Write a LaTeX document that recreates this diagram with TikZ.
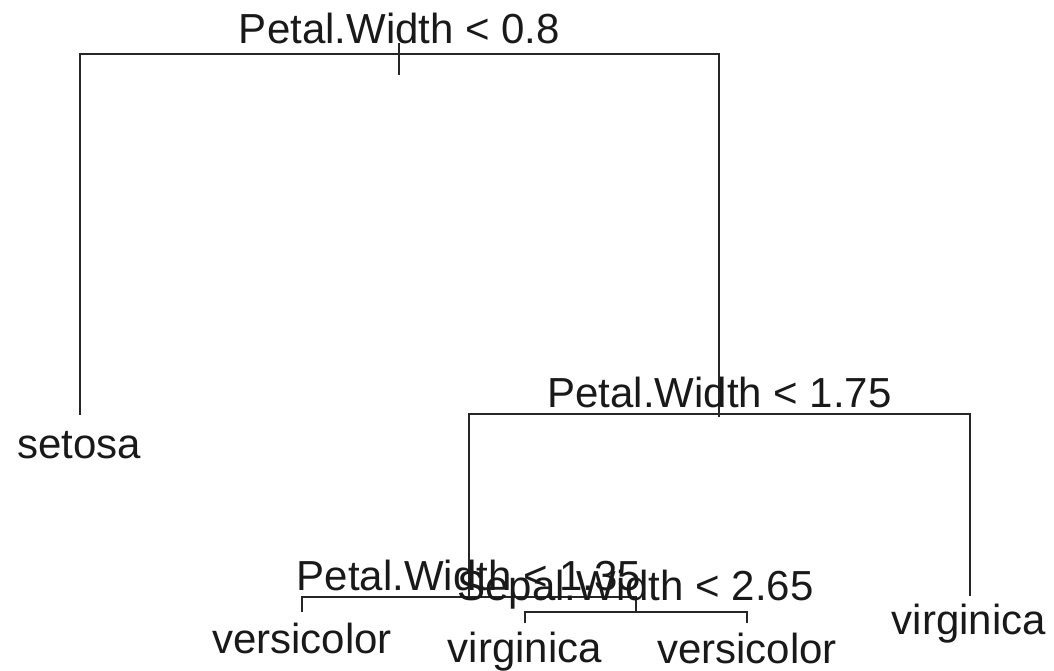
\documentclass[tikz,border=0pt]{standalone}
\usepackage{fontspec}
\setmainfont{Liberation Sans}
\begin{document}
\begin{tikzpicture}[x=1pt,y=-1pt,
  edge/.style={draw=black!85,line width=1.6pt},
  lbl/.style={anchor=base,inner sep=0pt,font=\fontsize{42}{48}\selectfont,text=black!90}]
\useasboundingbox (0,0) rectangle (1054,671);
% tree junctions
\coordinate (n1) at (399,54);
\coordinate (n1top) at (399,43);
\coordinate (n1bot) at (399,75);
\coordinate (n2) at (719,414);
\coordinate (n2bot) at (719,417);
\coordinate (n3) at (469,597);
\coordinate (n4) at (636,612);
% leaf tips
\coordinate (tSetosa) at (80,415);
\coordinate (tVirgR) at (970,596);
\coordinate (tVersL) at (302,612);
\coordinate (tVirgM) at (525,623);
\coordinate (tVersR) at (747,623);
% edges
\draw[edge] (tSetosa) |- (n1) -| (n2bot);
\draw[edge] (n1top) -- (n1bot);
\draw[edge] (n3) |- (n2) -| (tVirgR);
\draw[edge] (tVersL) |- (n3) -| (n4);
\draw[edge] (tVirgM) |- (n4) -| (tVersR);
% split labels
\node[lbl] (s1) at (399.5,44) {Petal.Width < 0.8};
\node[lbl] (s2) at (719.5,407) {Petal.Width < 1.75};
\node[lbl] (s3) at (469,590) {Petal.Width < 1.35};
\node[lbl] (s4) at (635.5,600) {Sepal.Width < 2.65};
% leaf labels
\node[lbl] (lSetosa) at (79,458) {setosa};
\node[lbl] (lVersL) at (302,653) {versicolor};
\node[lbl] (lVirgM) at (525,662) {virginica};
\node[lbl] (lVersR) at (747,663) {versicolor};
\node[lbl] (lVirgR) at (969,634) {virginica};
\end{tikzpicture}
\end{document}
